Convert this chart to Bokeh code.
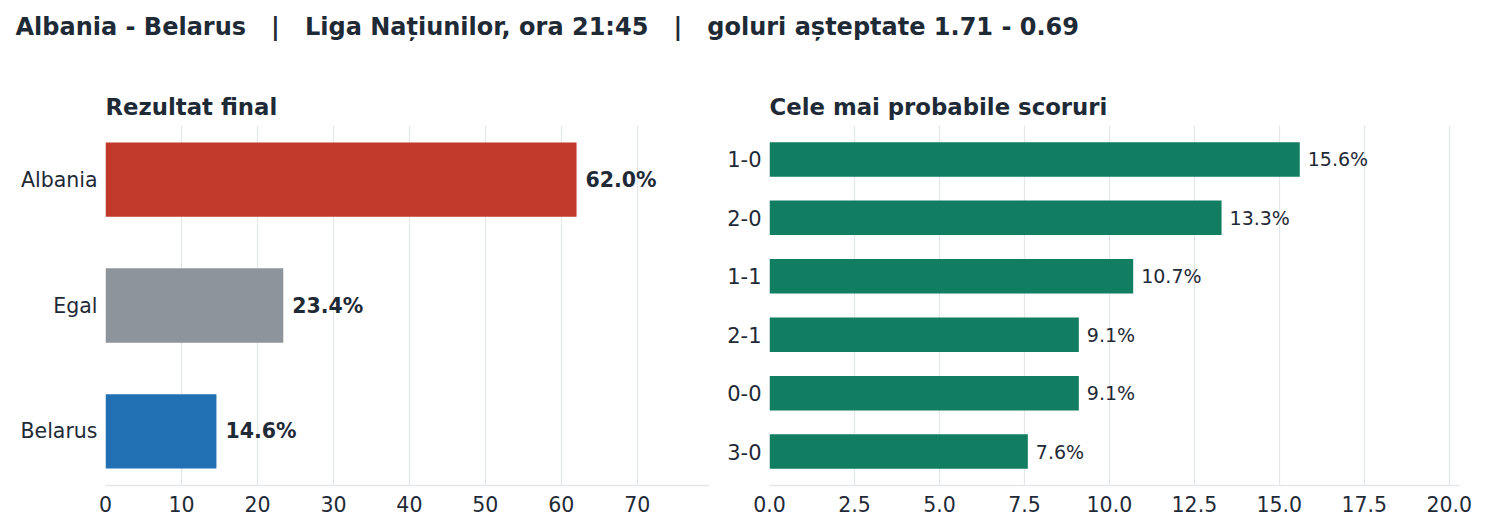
from bokeh.plotting import figure
from bokeh.models import Range1d, FixedTicker, PrintfTickFormatter, ColumnDataSource
from bokeh.layouts import column, row
from bokeh.embed import file_html
from bokeh.resources import INLINE
from bokeh.core.properties import value

# ---- data ----
SEP = " \u00a0 | \u00a0 "
main_title = "Albania - Belarus" + SEP + "Liga Națiunilor, ora 21:45" + SEP + "goluri așteptate 1.71 - 0.69"
left_title = "Rezultat final"
right_title = "Cele mai probabile scoruri"

outcomes = ["Albania", "Egal", "Belarus"]
outcome_pct = [62.0, 23.4, 14.6]
outcome_colors = ["#c0392b", "#8d949b", "#2170b3"]
left_ticks = [0, 10, 20, 30, 40, 50, 60, 70]

scores = ["1-0", "2-0", "1-1", "2-1", "0-0", "3-0"]
score_pct = [15.6, 13.3, 10.7, 9.1, 9.1, 7.6]
score_color = "#117d61"
right_ticks = [0.0, 2.5, 5.0, 7.5, 10.0, 12.5, 15.0, 17.5, 20.0]

FONT = "DejaVu Sans"
TXT = "#1f2a37"
GRID = "#e5e7eb"

# ---- title strip ----
t = figure(width=1487, height=68, output_backend="svg", toolbar_location=None,
           x_range=Range1d(0, 1487), y_range=Range1d(68, 0),
           min_border=0, min_border_left=0, min_border_right=0, min_border_top=0, min_border_bottom=0)
t.axis.visible = False
t.grid.visible = False
t.outline_line_color = None
t.text(x=[15], y=[26], text=[main_title], text_font=value(FONT), text_font_style="bold",
       text_font_size="24px", text_color=TXT, text_baseline="alphabetic", text_align="left")


def style(p, ticks):
    p.outline_line_color = None
    p.ygrid.grid_line_color = None
    p.xgrid.grid_line_color = GRID
    p.xgrid.grid_line_width = 1.3
    p.xaxis.ticker = FixedTicker(ticks=ticks)
    p.yaxis.axis_line_color = None
    p.xaxis.axis_line_color = GRID
    p.xaxis.axis_line_width = 1.5
    for ax in (p.xaxis, p.yaxis):
        ax.major_tick_line_color = None
        ax.minor_tick_line_color = None
        ax.major_tick_out = 0
        ax.major_tick_in = 0
        ax.minor_tick_out = 0
        ax.minor_tick_in = 0
        ax.major_label_text_font = FONT
        ax.major_label_text_font_size = "20.5px"
        ax.major_label_text_color = TXT
        ax.major_label_standoff = 8
    p.xaxis.major_label_standoff = 10
    p.title.text_font = FONT
    p.title.text_font_style = "bold"
    p.title.text_font_size = "22.8px"
    p.title.text_color = TXT
    p.title.align = "left"
    p.title.standoff = 12


# ---- left chart ----
ly = list(range(len(outcomes)))
src_l = ColumnDataSource(dict(y=ly, v=outcome_pct, c=outcome_colors,
                              lab=[f"{v:.1f}%" for v in outcome_pct]))
pl = figure(width=719, height=451, output_backend="svg", toolbar_location=None,
            x_range=Range1d(0, 79.5), y_range=Range1d(2.43, -0.43),
            min_border_left=105, min_border_right=10, min_border_top=57, min_border_bottom=34,
            title=left_title)
style(pl, left_ticks)
pl.yaxis.ticker = FixedTicker(ticks=ly)
pl.yaxis.major_label_overrides = {i: s for i, s in enumerate(outcomes)}
pl.hbar(y="y", right="v", left=0, height=0.59, fill_color="c", line_color=None, source=src_l)
pl.text(x="v", y="y", text="lab", source=src_l, x_offset=9, text_baseline="middle",
        text_align="left", text_font=value(FONT), text_font_style="bold",
        text_font_size="20.5px", text_color=TXT)

# ---- right chart ----
ry = list(range(len(scores)))
src_r = ColumnDataSource(dict(y=ry, v=score_pct, lab=[f"{v:.1f}%" for v in score_pct]))
pr = figure(width=760, height=451, output_backend="svg", toolbar_location=None,
            x_range=Range1d(0, 20.3), y_range=Range1d(5.58, -0.58),
            min_border_left=50, min_border_right=20, min_border_top=57, min_border_bottom=34,
            title=right_title)
style(pr, right_ticks)
pr.yaxis.major_label_text_font_size = "21px"
pr.xaxis.formatter = PrintfTickFormatter(format="%.1f")
pr.yaxis.ticker = FixedTicker(ticks=ry)
pr.yaxis.major_label_overrides = {i: s for i, s in enumerate(scores)}
pr.hbar(y="y", right="v", left=0, height=0.59, fill_color=score_color, line_color=None, source=src_r)
pr.text(x="v", y="y", text="lab", source=src_r, x_offset=8, text_baseline="middle",
        text_align="left", text_font=value(FONT), text_font_size="19px", text_color=TXT)

layout = column(t, row(pl, pr))
open("out.html", "w").write(file_html(layout, INLINE))
